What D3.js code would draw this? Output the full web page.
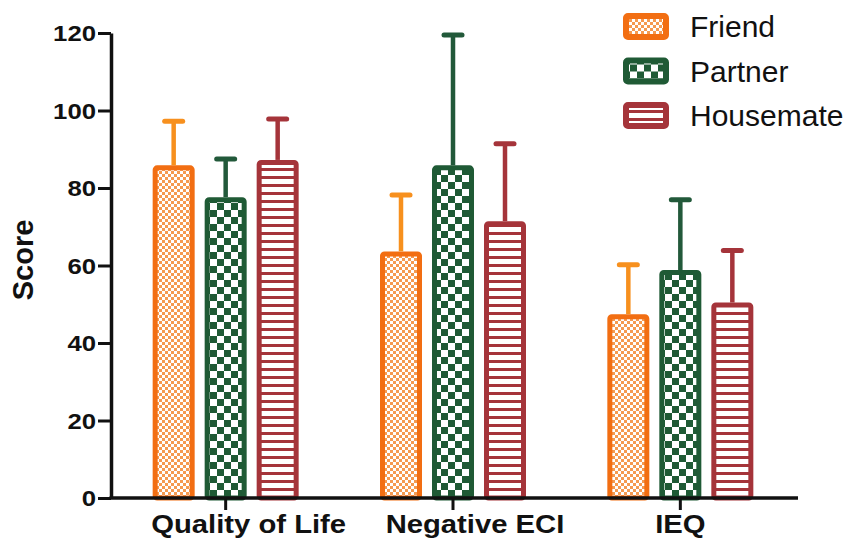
<!DOCTYPE html>
<html><head><meta charset="utf-8">
<script src="https://cdn.jsdelivr.net/npm/d3@7"></script>
<style>html,body{margin:0;padding:0;background:#fff;} svg{display:block;}</style>
</head><body>
<svg id="chart" width="858" height="541"></svg>
<script>
const categories = ["Quality of Life", "Negative ECI", "IEQ"];
const seriesNames = ["Friend", "Partner", "Housemate"];
const friendMean = [85.2, 63.0, 46.8];
const friendErr = [12.0, 15.2, 13.4];
const partnerMean = [77.0, 85.2, 58.2];
const partnerErr = [10.5, 34.3, 18.8];
const housemateMean = [86.6, 70.8, 49.8];
const housemateErr = [11.2, 20.6, 14.1];
const yTicks = [0, 20, 40, 60, 80, 100, 120];
const yLabel = "Score";

const colors = { Friend: "#F26E12", Partner: "#1F5A35", Housemate: "#A5343A" };
const errColors = { Friend: "#F7901E", Partner: "#22593A", Housemate: "#A5343A" };
const labelDx = [23, 22, 0];

const means = { Friend: friendMean, Partner: partnerMean, Housemate: housemateMean };
const errs = { Friend: friendErr, Partner: partnerErr, Housemate: housemateErr };

const svg = d3.select("#chart");
const defs = svg.append("defs");

// patterns
const pf = defs.append("pattern").attr("id", "pat-Friend").attr("patternUnits", "userSpaceOnUse").attr("width", 6).attr("height", 6);
pf.append("rect").attr("width", 6).attr("height", 6).attr("fill", "#fff");
pf.append("rect").attr("width", 3).attr("height", 3).attr("fill", "#F59A50");
pf.append("rect").attr("x", 3).attr("y", 3).attr("width", 3).attr("height", 3).attr("fill", "#F59A50");

const pp = defs.append("pattern").attr("id", "pat-Partner").attr("patternUnits", "userSpaceOnUse").attr("width", 14).attr("height", 14);
pp.append("rect").attr("width", 14).attr("height", 14).attr("fill", "#fff");
pp.append("rect").attr("width", 7).attr("height", 7).attr("fill", "#1F5A35");
pp.append("rect").attr("x", 7).attr("y", 7).attr("width", 7).attr("height", 7).attr("fill", "#1F5A35");

const ph = defs.append("pattern").attr("id", "pat-Housemate").attr("patternUnits", "userSpaceOnUse").attr("width", 8).attr("height", 8);
ph.append("rect").attr("width", 8).attr("height", 8).attr("fill", "#fff");
ph.append("rect").attr("width", 8).attr("height", 3).attr("fill", "#A5343A");

const y = d3.scaleLinear().domain([0, 120]).range([498, 33]);
const x0 = d3.scaleBand().domain(categories).range([112, 794]).padding(0);
const x1 = d3.scaleBand().domain(seriesNames).range([-73, 73]).paddingInner(10 / 52).paddingOuter(0);

const data = [];
categories.forEach((c, i) => {
  seriesNames.forEach(s => {
    data.push({ cat: c, ser: s, v: means[s][i], e: errs[s][i] });
  });
});

const sw = 5;
const g = svg.append("g");
g.selectAll("rect.bar").data(data).enter().append("rect")
  .attr("class", "bar")
  .attr("x", d => x0(d.cat) + x0.bandwidth() / 2 + x1(d.ser) + sw / 2)
  .attr("y", d => y(d.v))
  .attr("width", x1.bandwidth() - sw)
  .attr("height", d => y(0) - y(d.v))
  .attr("rx", 2)
  .attr("fill", d => `url(#pat-${d.ser})`)
  .attr("stroke", d => colors[d.ser])
  .attr("stroke-width", sw);

// error bars
const eb = g.selectAll("g.err").data(data).enter().append("g").attr("class", "err");
eb.append("line")
  .attr("x1", d => x0(d.cat) + x0.bandwidth() / 2 + x1(d.ser) + x1.bandwidth() / 2)
  .attr("x2", d => x0(d.cat) + x0.bandwidth() / 2 + x1(d.ser) + x1.bandwidth() / 2)
  .attr("y1", d => y(d.v) - sw / 2)
  .attr("y2", d => y(d.v + d.e))
  .attr("stroke", d => errColors[d.ser]).attr("stroke-width", 4.5);
eb.append("line")
  .attr("x1", d => x0(d.cat) + x0.bandwidth() / 2 + x1(d.ser) + x1.bandwidth() / 2 - 9)
  .attr("x2", d => x0(d.cat) + x0.bandwidth() / 2 + x1(d.ser) + x1.bandwidth() / 2 + 9)
  .attr("y1", d => y(d.v + d.e))
  .attr("y2", d => y(d.v + d.e))
  .attr("stroke", d => errColors[d.ser]).attr("stroke-width", 5).attr("stroke-linecap", "round");

// axes
const sx = 1.17;
const yAxis = d3.axisLeft(y).tickValues(yTicks).tickSize(13).tickSizeOuter(0).tickPadding(3);
const ya = svg.append("g").attr("transform", "translate(111,0)").call(yAxis);
ya.select(".domain").attr("stroke", "#111").attr("stroke-width", 3.5);
ya.selectAll(".tick line").attr("stroke", "#111").attr("stroke-width", 3);
ya.selectAll(".tick text")
  .attr("font-family", "Liberation Sans, Arial, sans-serif")
  .attr("font-weight", "bold").attr("font-size", 22).attr("fill", "#111")
  .attr("x", -15 / sx).attr("dy", "0.36em")
  .attr("transform", `scale(${sx},1)`);

const xAxis = d3.axisBottom(x0).tickSize(12).tickSizeOuter(0).tickFormat("");
const xa = svg.append("g").attr("transform", "translate(0,498)").call(xAxis);
xa.select(".domain").remove();
xa.selectAll(".tick line").attr("stroke", "#111").attr("stroke-width", 3);
svg.append("line").attr("x1", 109.5).attr("x2", 798).attr("y1", 498).attr("y2", 498)
  .attr("stroke", "#111").attr("stroke-width", 3.5);

svg.append("g").selectAll("text").data(categories).enter().append("text")
  .attr("transform", (d, i) => `translate(${x0(d) + x0.bandwidth() / 2 + labelDx[i]},533) scale(${sx},1)`)
  .attr("text-anchor", "middle")
  .attr("font-family", "Liberation Sans, Arial, sans-serif")
  .attr("font-weight", "bold").attr("font-size", 25).attr("fill", "#111")
  .text(d => d);

svg.append("text")
  .attr("transform", "translate(33,260) rotate(-90)")
  .attr("text-anchor", "middle")
  .attr("font-family", "Liberation Sans, Arial, sans-serif")
  .attr("font-weight", "bold").attr("font-size", 29).attr("fill", "#111")
  .text(yLabel);

// legend
const lg = svg.append("g").selectAll("g").data(seriesNames).enter().append("g")
  .attr("transform", (d, i) => `translate(623,${13 + i * 44.5})`);
lg.append("rect").attr("x", 3).attr("y", 3).attr("width", 40).attr("height", 21).attr("rx", 2)
  .attr("fill", d => `url(#pat-${d})`).attr("stroke", d => colors[d]).attr("stroke-width", 6);
lg.append("text").attr("x", 67).attr("y", 24)
  .attr("font-family", "Liberation Sans, Arial, sans-serif")
  .attr("font-size", 30).attr("fill", "#111")
  .text(d => d);
</script>
</body></html>
